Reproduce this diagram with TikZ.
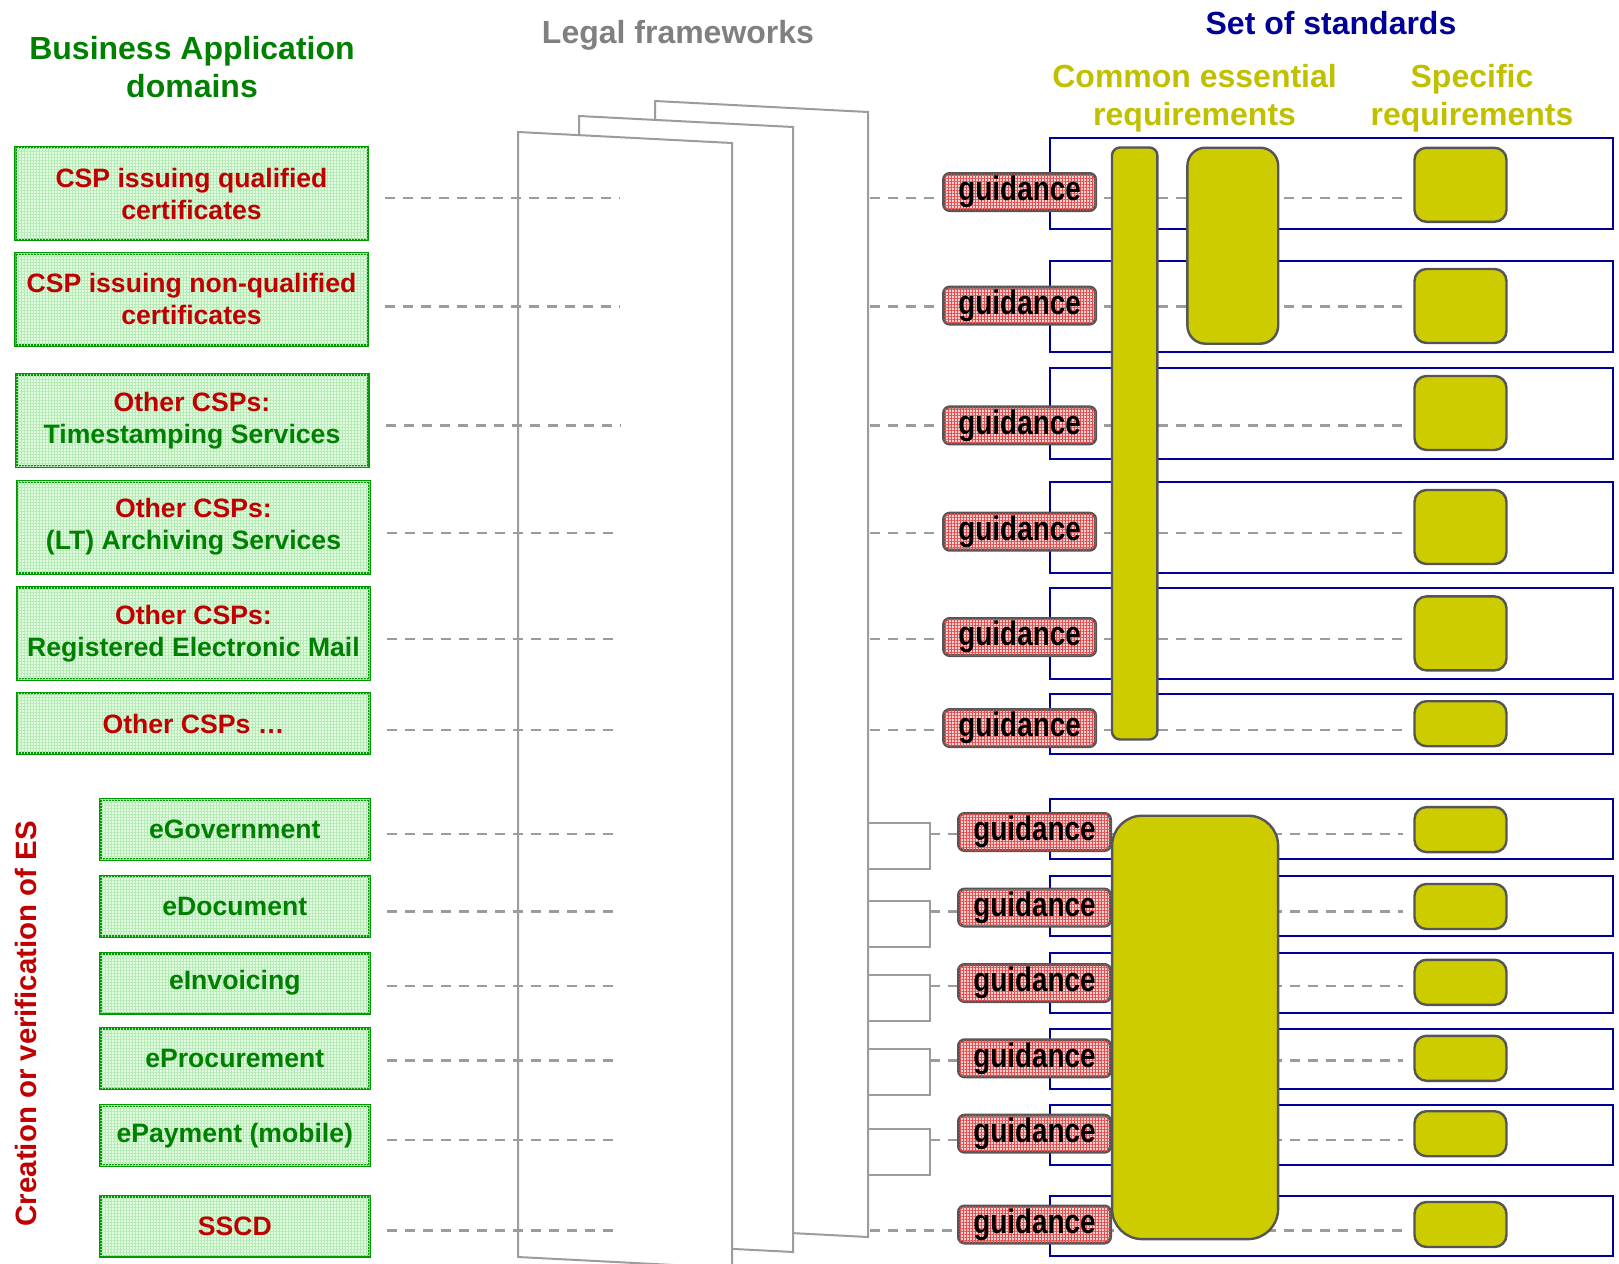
\documentclass[tikz,border=0pt]{standalone}
\usepackage{fontspec}
\setmainfont{Liberation Sans}
\newfontfamily\guidefont[FakeStretch=0.82]{Liberation Sans}
\usetikzlibrary{patterns.meta}
\definecolor{cgreen}{HTML}{008000}
\definecolor{cgreenline}{HTML}{009A00}
\definecolor{cgreenfill}{HTML}{E2FCE2}
\definecolor{cgreengrid}{HTML}{B4EAB4}
\definecolor{cred}{HTML}{C00000}
\definecolor{cpink}{HTML}{F8C4C4}
\definecolor{cpinkgrid}{HTML}{E05050}
\definecolor{cdark}{HTML}{555555}
\definecolor{cyellow}{HTML}{CCCC00}
\definecolor{colive}{HTML}{C0C000}
\definecolor{cblue}{HTML}{000099}
\definecolor{cgrey}{HTML}{808080}
\definecolor{cpage}{HTML}{9C9C9C}
\tikzset{
  title/.style={font=\bfseries\fontsize{16}{19}\selectfont, align=center},
  appbox/.style={draw=cgreenline, line width=1.5pt, fill=cgreenfill,
    postaction={pattern={Hatch[angle=0, distance=1.5pt, line width=0.25pt]}, pattern color=cgreengrid},
    text=cgreen, font=\bfseries\fontsize{13.3}{16}\selectfont, align=center, inner sep=0pt},
  bigapp/.style={appbox, minimum width=176pt, minimum height=46pt},
  smallapp/.style={appbox, minimum width=134.8pt, minimum height=30pt},
  guide/.style={draw=cdark, line width=1.5pt, rounded corners=3pt, fill=cpink, fill opacity=0.8, text opacity=1,
    postaction={pattern={Hatch[angle=0, distance=1.5pt, line width=0.25pt]}, pattern color=cpinkgrid},
    minimum width=76pt, minimum height=18.5pt, inner sep=0pt, font=\guidefont\bfseries\fontsize{17}{17}\selectfont},
  reqbox/.style={draw=cdark, line width=1.2pt, fill=cyellow, rounded corners=6pt, minimum width=46pt, inner sep=0pt},
  stdrow/.style={draw=cblue, line width=1pt, minimum width=281.5pt, inner sep=0pt},
  legal/.style={draw=cpage, line width=1pt, fill=white},
  dashline/.style={draw=cpage, line width=1.3pt, dash pattern=on 5pt off 4pt},
}
\begin{document}
\begin{tikzpicture}[x=0.5pt, y=-0.5pt]
  \useasboundingbox (0,0) rectangle (1619,1264);
  % headings
  \node[title, text=cgreen] (apptitle) at (192,66.6) {Business Application\\domains};
  \node[title, text=cgrey] (legaltitle) at (678,35) {Legal frameworks};
  \node[title, text=cblue] (stdtitle) at (1331,23.5) {Set of standards};
  \node[title, text=colive] (commontitle) at (1194.6,98) {Common essential\\requirements};
  \node[title, text=colive] (spectitle) at (1472,98) {Specific\\requirements};
  \node[title, text=cred, rotate=90, font=\bfseries\fontsize{14.7}{17}\selectfont] (estitle) at (25.8,1023.7) {Creation or verification of ES};
  % legal framework pages
  \draw[legal] (655,101) -- (868,112) -- (868,1237) -- (655,1226) -- cycle;
  \draw[legal] (579,116) -- (793,127) -- (793,1252) -- (579,1241) -- cycle;
  \draw[legal] (518,132) -- (732,143) -- (732,1268) -- (518,1257) -- cycle;
  \foreach \dy in {834,911.7,986,1060.4,1139.9}
    \draw[legal, fill=none] (868,\dy-11) -- (930,\dy-11) -- (930,\dy+35) -- (868,\dy+35);
  % business application domains
  \node[bigapp] (app1) at (191.5,193.5) {\textcolor{cred}{CSP issuing qualified}\\\textcolor{cred}{certificates}};
  \node[bigapp] (app2) at (191.5,299) {\textcolor{cred}{CSP issuing non-qualified}\\\textcolor{cred}{certificates}};
  \node[bigapp] (app3) at (192,420.7) {\textcolor{cred}{Other CSPs:}\\Timestamping Services};
  \node[bigapp] (app4) at (193.5,527) {\textcolor{cred}{Other CSPs:}\\(LT) Archiving Services};
  \node[bigapp] (app5) at (193.5,633.5) {\textcolor{cred}{Other CSPs:}\\Registered Electronic Mail};
  \node[bigapp, minimum height=30pt] (app6) at (193.5,723.7) {\textcolor{cred}{Other CSPs \dots}};
  \node[smallapp] (app7) at (234.8,829) {eGovernment};
  \node[smallapp] (app8) at (234.8,906) {eDocument};
  \node[smallapp] (app9) at (234.8,983) {eInvoicing};
  \node[smallapp] (app10) at (234.8,1058.9) {eProcurement};
  \node[smallapp] (app11) at (234.8,1135.2) {ePayment (mobile)};
  \node[smallapp] (app12) at (234.8,1226.1) {\textcolor{cred}{SSCD}};
  % rows of standards
  \foreach \i/\by/\bh/\gx/\gy/\dy/\sy/\sh/\rx in {
      1/183.8/45.5/1019.6/192/198/184.8/37/870,
      2/306/45.5/1019.6/305.6/306.6/306/37/870,
      3/413/45.5/1019.6/425.4/425.4/413/37/870,
      4/527/45.5/1019.6/531.7/532.8/527/37/870,
      5/633/45.5/1019.6/637/639/633.4/37/870,
      6/723.7/30/1019.6/728/730/723.7/22.5/870,
      7/829/30/1034.5/832/834/829.6/22.5/930,
      8/906/30/1034.5/907.6/911.7/906.5/22.5/930,
      9/983/30/1034.5/983/986/982.3/22.5/930,
      10/1058.9/30/1034.5/1058.3/1060.4/1058.3/22.5/930,
      11/1135.2/30/1034.5/1133.7/1139.9/1133.7/22.5/930,
      12/1226.1/30/1034.5/1224.5/1230.7/1224.5/22.5/870} {
    \node[stdrow, minimum height=\bh pt] (row\i) at (1331.5,\by) {};
    \node[reqbox, minimum height=\sh pt] (spec\i) at (1460.5,\sy) {};
    \coordinate (lf\i) at (620,\dy);
    \coordinate (rf\i) at (\rx,\dy);
    \draw[dashline, shorten <=8pt] (app\i.east |- lf\i) -- (lf\i);
    \draw[dashline, shorten >=5pt] (rf\i) -- (spec\i.west |- rf\i);
    \node[guide] (guid\i) at (\gx,\gy) {guidance};
  }
  % common essential requirements
  \node[reqbox, rounded corners=4pt, minimum width=22.7pt, minimum height=296pt] (commonA) at (1134.7,443.5) {};
  \node[reqbox, rounded corners=9pt, minimum width=45.4pt, minimum height=98pt] (commonB) at (1232.8,245.7) {};
  \node[reqbox, rounded corners=15pt, minimum width=83pt, minimum height=211.7pt] (commonC) at (1195.1,1027.4) {};
\end{tikzpicture}
\end{document}
